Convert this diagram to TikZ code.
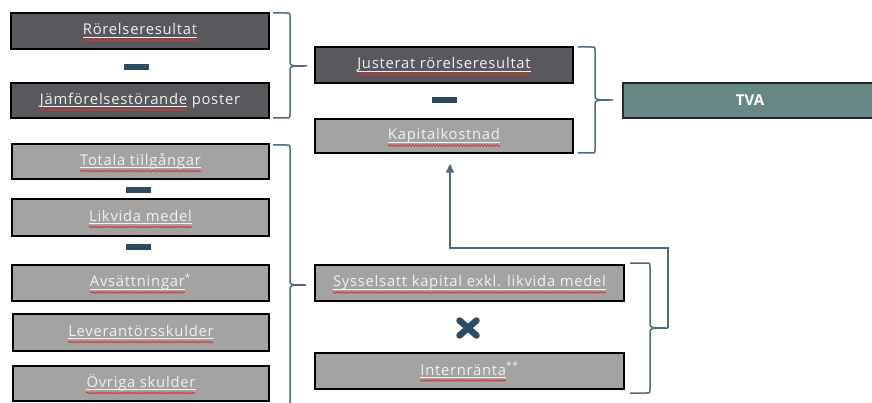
\documentclass[tikz,border=0pt]{standalone}
\usepackage{fontspec}
\newfontfamily\boxfont{Open Sans}[LetterSpace=5]
\newfontfamily\tvafont{Open Sans}
\usetikzlibrary{arrows.meta,decorations.pathmorphing,calc}
\definecolor{darkfill}{HTML}{5A585D}
\definecolor{greyfill}{HTML}{A3A3A3}
\definecolor{tealfill}{HTML}{678986}
\definecolor{bracecol}{HTML}{4F6B82}
\definecolor{signcol}{HTML}{2D4B60}
\definecolor{txtcol}{HTML}{F0F0F0}
\definecolor{squigred}{HTML}{E0302A}
\newcommand\boxfontsize{\fontsize{14.8}{17}\selectfont}
\newlength\wA
\newlength\wB
\newlength\wC
\tikzset{
 boxbase/.style={draw=black, line width=1.3pt, inner sep=0pt},
 darkbox/.style={boxbase, fill=darkfill},
 greybox/.style={boxbase, fill=greyfill},
 tealbox/.style={boxbase, fill=tealfill, draw=black!85},
 txt/.style={text=txtcol, font=\boxfont\boxfontsize, inner sep=0pt, anchor=base},
 tvatxt/.style={text=white, font=\tvafont\bfseries\fontsize{15}{17}\selectfont, inner sep=0pt, anchor=base},
 minussign/.style={fill=signcol, minimum width=25pt, minimum height=6pt, inner sep=0pt},
 bracepath/.style={draw=bracecol, line width=1.5pt},
 ulstyle/.style={draw=txtcol, line width=0.7pt},
 wavestyle/.style={draw=squigred, line width=0.7pt, decorate, decoration={snake, amplitude=0.9pt, segment length=3pt}},
 conn/.style={draw=bracecol, line width=1.5pt, -{Triangle[width=8pt,length=9pt]}},
}
% box with text: name, style, cx, cy, width, height, text
\newcommand\tbox[7]{%
 \node[#2, minimum width=#5pt, minimum height=#6pt] (#1) at (#3,#4) {};
 \node[txt] (#1t) at (#3,#4+4) {#7};
}
% underline whole text of a text node
\newcommand\ulall[1]{%
 \draw[ulstyle] ($(#1.base west)+(0,2)$) -- ($(#1.base east)+(0,2)$);
 \draw[wavestyle] ($(#1.base west)+(0,5.5)$) -- ($(#1.base east)+(0,5.5)$);
}
% underline only a first part of given width
\newcommand\ulword[2]{%
 \draw[ulstyle] ($(#1.base west)+(0,2)$) -- ++(#2,0pt);
 \draw[wavestyle] ($(#1.base west)+(0,5.5)$) -- ++(#2,0pt);
}
% right brace: x0 x1 ytop ymid ybot xtip
\newcommand\rbrc[6]{%
 \draw[bracepath] (#1,#3) -- (#2-4,#3) .. controls (#2,#3) .. (#2,#3+4) -- (#2,#4-5)
   .. controls (#2,#4) .. (#6,#4) .. controls (#2,#4) .. (#2,#4+5) -- (#2,#5-4)
   .. controls (#2,#5) .. (#2-4,#5) -- (#1,#5);
}
\begin{document}
\settowidth\wA{\boxfont\boxfontsize Jämförelsestörande}%
\settowidth\wB{\boxfont\boxfontsize Avsättningar}%
\settowidth\wC{\boxfont\boxfontsize Internränta}%
\begin{tikzpicture}[x=1pt,y=-1pt]
\useasboundingbox (0,0) rectangle (872,403);
\fill[white] (0,0) rectangle (872,403);
\clip (0,0) rectangle (872,403);

% left top group
\tbox{b1}{darkbox}{140}{31}{258}{36}{Rörelseresultat}
\node[minussign] (m1) at (136,67.5) {};
\tbox{b2}{darkbox}{140}{100.5}{258}{35}{Jämförelsestörande poster}
\rbrc{273}{290}{13}{66}{118}{307}

% middle top group
\tbox{b3}{darkbox}{444}{65}{258}{36}{Justerat rörelseresultat}
\node[minussign] (m2) at (444,100) {};
\tbox{b4}{greybox}{444}{136}{258}{34}{Kapitalkostnad}
\rbrc{578}{595}{47}{100}{153}{613}

% TVA
\node[tealbox, minimum width=256pt, minimum height=35pt] (b5) at (751,100.5) {};
\node[tvatxt] (b5t) at (750,106) {TVA};

% left lower group
\tbox{b6}{greybox}{140.5}{161.5}{257}{35}{Totala tillgångar}
\node[minussign] (m3) at (138,190) {};
\tbox{b7}{greybox}{140.5}{217.5}{257}{37}{Likvida medel}
\node[minussign] (m4) at (138,247) {};
\tbox{b8}{greybox}{140.5}{283}{257}{36}{Avsättningar\textsuperscript{*}}
\tbox{b9}{greybox}{141}{332.5}{256}{37}{Leverantörsskulder}
\tbox{b10}{greybox}{141}{383.5}{256}{35}{Övriga skulder}
\rbrc{273}{290}{145}{285}{425}{306}

% middle lower group
\tbox{b11}{greybox}{469.5}{283}{309}{36}{Sysselsatt kapital exkl. likvida medel}
\coordinate (times) at (468,328);
\draw[signcol, line width=6.5pt, line cap=round]
  ($(times)+(-8.5,-7.5)$) -- ($(times)+(8.5,7.5)$)
  ($(times)+(-8.5,7.5)$) -- ($(times)+(8.5,-7.5)$);
\tbox{b12}{greybox}{469.5}{371}{309}{36}{Internränta\textsuperscript{**}}
\rbrc{630}{650}{263}{328}{393}{668}

% connector
\coordinate (dtip) at (668,328);
\coordinate (atip) at ($(b4.south)+(6,10)$);
\draw[conn] (dtip) -- (668,248) -| (atip);

% underlines
\ulall{b1t}
\ulword{b2t}{\wA}
\ulall{b3t}
\ulall{b4t}
\ulall{b6t}
\ulall{b7t}
\ulword{b8t}{\wB}
\ulall{b9t}
\ulall{b10t}
\ulall{b11t}
\ulword{b12t}{\wC}
\end{tikzpicture}
\end{document}
